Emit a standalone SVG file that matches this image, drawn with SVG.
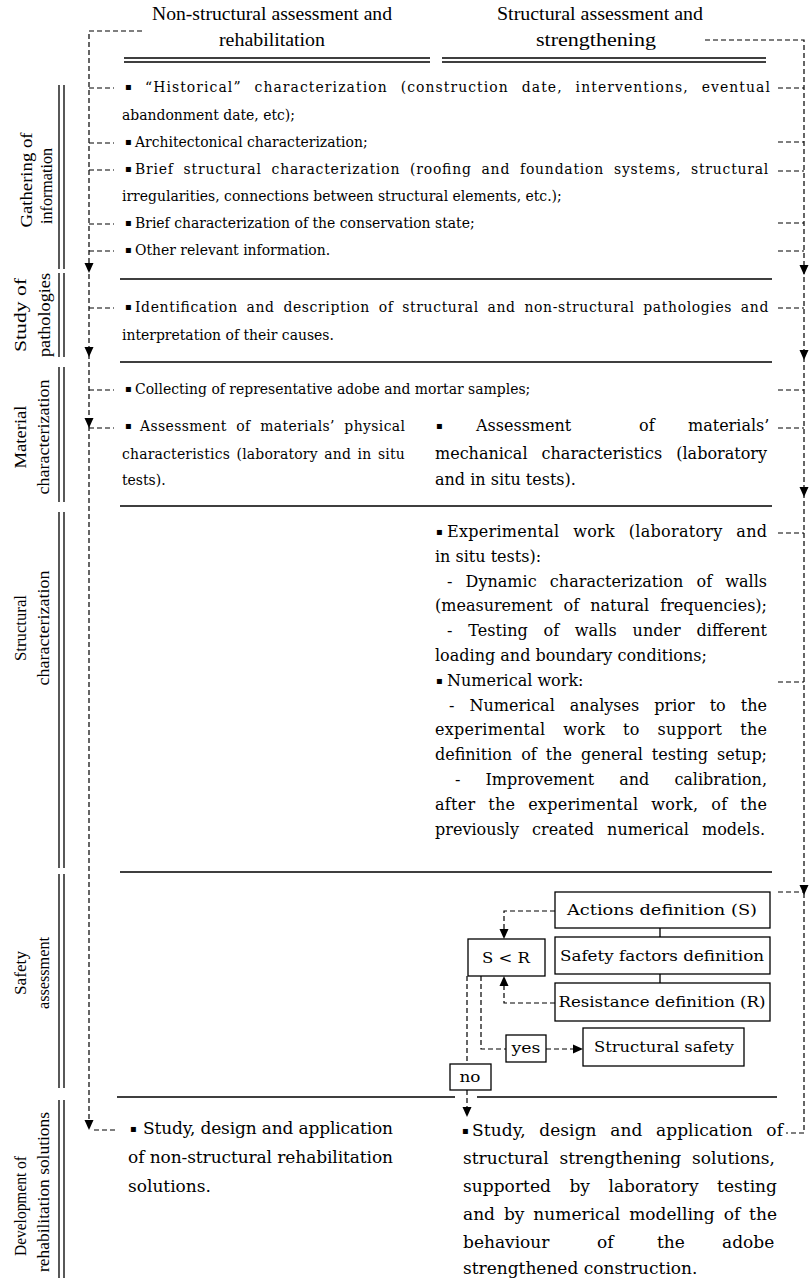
<svg xmlns="http://www.w3.org/2000/svg" width="809" height="1278" viewBox="0 0 809 1278">
<style>
text{fill:#000}
.b{font-family:"DejaVu Serif","Liberation Serif",serif;font-size:15px}
.s{font-family:"DejaVu Serif","Liberation Serif",serif;font-size:16px}
.d{font-family:"DejaVu Serif","Liberation Serif",serif;font-size:17px}
.bx{font-family:"DejaVu Serif","Liberation Serif",serif;font-size:15px}
.bul{font-family:"DejaVu Sans",sans-serif;font-size:10px}
.h{font-family:"Liberation Serif",serif;font-size:18px}
.lb{font-family:"Liberation Serif",serif;font-size:17px}
.r{stroke:#000;stroke-width:1.3;fill:none}
.dash{stroke:#000;stroke-width:1.2;fill:none;stroke-dasharray:5 3}
.box{fill:#fff;stroke:#000;stroke-width:1.3}
</style>
<defs>
<path id="ah" d="M-4.5,-10 L4.5,-10 L0,0 Z" fill="#000"/>
</defs>
<rect width="809" height="1278" fill="#fff"/>

<g id="header">
<text class="h" x="272" y="20" text-anchor="middle" textLength="240" lengthAdjust="spacingAndGlyphs">Non-structural assessment and</text>
<text class="h" x="272" y="46" text-anchor="middle" textLength="106" lengthAdjust="spacingAndGlyphs">rehabilitation</text>
<text class="h" x="600" y="20" text-anchor="middle" textLength="206" lengthAdjust="spacingAndGlyphs">Structural assessment and</text>
<text class="h" x="596" y="46" text-anchor="middle" textLength="120" lengthAdjust="spacingAndGlyphs">strengthening</text>
<path class="r" d="M124,58 H430 M124,62 H430 M442,58 H766 M442,62 H766"/>
</g>

<g id="labels">
<path class="r" d="M59,85 V269 M64,85 V269 M59,273 V357 M64,273 V357 M59,367 V502 M64,367 V502 M59,512 V868 M64,512 V868 M59,874 V1088 M64,874 V1088 M59,1100 V1278 M64,1100 V1278"/>
<text class="lb" transform="translate(32,180) rotate(-90)" text-anchor="middle" textLength="95" lengthAdjust="spacingAndGlyphs">Gathering of</text>
<text class="lb" transform="translate(52,186) rotate(-90)" text-anchor="middle" textLength="76" lengthAdjust="spacingAndGlyphs">information</text>
<text class="lb" transform="translate(26,315) rotate(-90)" text-anchor="middle" textLength="74" lengthAdjust="spacingAndGlyphs">Study of</text>
<text class="lb" transform="translate(50,315) rotate(-90)" text-anchor="middle" textLength="84" lengthAdjust="spacingAndGlyphs">pathologies</text>
<text class="lb" transform="translate(26,437) rotate(-90)" text-anchor="middle" textLength="63" lengthAdjust="spacingAndGlyphs">Material</text>
<text class="lb" transform="translate(49,437) rotate(-90)" text-anchor="middle" textLength="115" lengthAdjust="spacingAndGlyphs">characterization</text>
<text class="lb" transform="translate(26,628) rotate(-90)" text-anchor="middle" textLength="66" lengthAdjust="spacingAndGlyphs">Structural</text>
<text class="lb" transform="translate(49,628) rotate(-90)" text-anchor="middle" textLength="115" lengthAdjust="spacingAndGlyphs">characterization</text>
<text class="lb" transform="translate(26,973) rotate(-90)" text-anchor="middle" textLength="44" lengthAdjust="spacingAndGlyphs">Safety</text>
<text class="lb" transform="translate(49,973) rotate(-90)" text-anchor="middle" textLength="72" lengthAdjust="spacingAndGlyphs">assessment</text>
<text class="lb" transform="translate(26,1206) rotate(-90)" text-anchor="middle" textLength="100" lengthAdjust="spacingAndGlyphs">Development of</text>
<text class="lb" transform="translate(49,1192) rotate(-90)" text-anchor="middle" textLength="160" lengthAdjust="spacingAndGlyphs">rehabilitation solutions</text>
</g>

<g id="rules">
<path class="r" d="M120,279 H772 M120,362 H772 M120,506 H772 M120,872 H772 M117,1097 H455 M477,1097 H777"/>
</g>

<g id="gathering">
<text class="bul" x="125" y="90">▪</text>
<text class="b" transform="translate(145,92) scale(0.93,1)" word-spacing="8" textLength="672" lengthAdjust="spacing">“Historical” characterization (construction date, interventions, eventual</text>
<text class="b" transform="translate(122,120) scale(0.93,1)">abandonment date, etc);</text>
<text class="bul" x="125" y="145">▪</text>
<text class="b" transform="translate(135,147) scale(0.93,1)">Architectonical characterization;</text>
<text class="bul" x="125" y="172">▪</text>
<text class="b" transform="translate(135,174) scale(0.93,1)" word-spacing="5" textLength="681" lengthAdjust="spacing">Brief structural characterization (roofing and foundation systems, structural</text>
<text class="b" transform="translate(122,201) scale(0.93,1)">irregularities, connections between structural elements, etc.);</text>
<text class="bul" x="125" y="226">▪</text>
<text class="b" transform="translate(135,228) scale(0.93,1)">Brief characterization of the conservation state;</text>
<text class="bul" x="125" y="253">▪</text>
<text class="b" transform="translate(135,255) scale(0.93,1)">Other relevant information.</text>
</g>

<g id="pathologies">
<text class="bul" x="125" y="310">▪</text>
<text class="b" transform="translate(135,312) scale(0.93,1)" word-spacing="4" textLength="681" lengthAdjust="spacing">Identification and description of structural and non-structural pathologies and</text>
<text class="b" transform="translate(122,340) scale(0.93,1)">interpretation of their causes.</text>
</g>

<g id="material">
<text class="bul" x="125" y="392">▪</text>
<text class="b" transform="translate(135,394) scale(0.93,1)">Collecting of representative adobe and mortar samples;</text>
<text class="bul" x="125" y="429">▪</text>
<text class="b" transform="translate(140,431) scale(0.93,1)" word-spacing="5" textLength="285" lengthAdjust="spacing">Assessment of materials’ physical</text>
<text class="b" transform="translate(122,459) scale(0.93,1)" word-spacing="2" textLength="304" lengthAdjust="spacing">characteristics (laboratory and in situ</text>
<text class="b" transform="translate(122,485) scale(0.93,1)">tests).</text>
<text class="bul" x="436" y="429">▪</text>
<text class="s" x="476" y="431">Assessment</text>
<text class="s" x="639" y="431">of</text>
<text class="s" x="688" y="431">materials’</text>
<text class="s" x="435" y="459" word-spacing="9" textLength="332" lengthAdjust="spacing">mechanical characteristics (laboratory</text>
<text class="s" x="435" y="485">and in situ tests).</text>
</g>

<g id="structural">
<text class="bul" x="436" y="535">▪</text>
<text class="s" x="447" y="537" word-spacing="8.5" textLength="320" lengthAdjust="spacing">Experimental work (laboratory and</text>
<text class="s" x="435" y="562">in situ tests):</text>
<text class="s" x="447" y="587" word-spacing="8" textLength="320" lengthAdjust="spacing">- Dynamic characterization of walls</text>
<text class="s" x="435" y="611" word-spacing="6" textLength="332" lengthAdjust="spacing">(measurement of natural frequencies);</text>
<text class="s" x="447" y="636" word-spacing="10.5" textLength="320" lengthAdjust="spacing">- Testing of walls under different</text>
<text class="s" x="435" y="661">loading and boundary conditions;</text>
<text class="bul" x="436" y="684">▪</text>
<text class="s" x="447" y="686">Numerical work:</text>
<text class="s" x="449" y="711" word-spacing="10" textLength="318" lengthAdjust="spacing">- Numerical analyses prior to the</text>
<text class="s" x="435" y="735" word-spacing="12.5" textLength="332" lengthAdjust="spacing">experimental work to support the</text>
<text class="s" x="435" y="760" word-spacing="4" textLength="332" lengthAdjust="spacing">definition of the general testing setup;</text>
<text class="s" x="455" y="785" word-spacing="20" textLength="312" lengthAdjust="spacing">- Improvement and calibration,</text>
<text class="s" x="435" y="810" word-spacing="7.5" textLength="332" lengthAdjust="spacing">after the experimental work, of the</text>
<text class="s" x="435" y="835" word-spacing="8" textLength="330" lengthAdjust="spacing">previously created numerical models.</text>
</g>

<g id="safety">
<rect id="actions" class="box" x="555" y="892" width="215" height="36"/>
<text class="bx" x="662" y="915" text-anchor="middle" textLength="190" lengthAdjust="spacingAndGlyphs">Actions definition (S)</text>
<rect id="factors" class="box" x="555" y="937" width="215" height="37"/>
<text class="bx" x="662" y="961" text-anchor="middle" textLength="204" lengthAdjust="spacingAndGlyphs">Safety factors definition</text>
<rect id="resistance" class="box" x="555" y="983" width="215" height="38"/>
<text class="bx" x="662" y="1007" text-anchor="middle" textLength="207" lengthAdjust="spacingAndGlyphs">Resistance definition (R)</text>
<rect id="sr" class="box" x="468" y="939" width="77" height="37"/>
<text class="bx" x="506" y="963" text-anchor="middle" textLength="48" lengthAdjust="spacingAndGlyphs">S &lt; R</text>
<rect id="yes" class="box" x="506" y="1035" width="40" height="27"/>
<text class="bx" x="526" y="1053" text-anchor="middle" textLength="29" lengthAdjust="spacingAndGlyphs">yes</text>
<rect id="safe" class="box" x="583" y="1028" width="161" height="38"/>
<text class="bx" x="664" y="1052" text-anchor="middle" textLength="140" lengthAdjust="spacingAndGlyphs">Structural safety</text>
<rect id="no" class="box" x="450" y="1064" width="41" height="26"/>
<text class="bx" x="470" y="1082" text-anchor="middle" textLength="21" lengthAdjust="spacingAndGlyphs">no</text>
</g>

<g id="development">
<text class="bul" x="130" y="1132">▪</text>
<text class="d" x="143" y="1134" textLength="250" lengthAdjust="spacing">Study, design and application</text>
<text class="d" x="128" y="1163" textLength="265" lengthAdjust="spacing">of non-structural rehabilitation</text>
<text class="d" x="128" y="1192">solutions.</text>
<text class="bul" x="462" y="1134">▪</text>
<text class="d" x="472" y="1136" word-spacing="8" textLength="311" lengthAdjust="spacing">Study, design and application of</text>
<text class="d" x="463" y="1164" word-spacing="5.5" textLength="312" lengthAdjust="spacing">structural strengthening solutions,</text>
<text class="d" x="463" y="1192" word-spacing="13" textLength="314" lengthAdjust="spacing">supported by laboratory testing</text>
<text class="d" x="463" y="1220" word-spacing="3.5" textLength="314" lengthAdjust="spacing">and by numerical modelling of the</text>
<text class="d" x="463" y="1248">behaviour</text>
<text class="d" x="597" y="1248">of</text>
<text class="d" x="657" y="1248">the</text>
<text class="d" x="722" y="1248">adobe</text>
<text class="d" x="463" y="1274">strengthened construction.</text>
</g>

<g id="connectors">
<path class="dash" d="M142,31 H89 V1120"/>
<path class="dash" d="M89,88 H114 M89,143 H114 M89,170 H114 M89,224 H114 M89,251 H114 M89,308 H114 M89,390 H114 M89,428 H114 M94,1130 H117"/>
<path class="dash" d="M705,40 H804 V1133 H786"/>
<path class="dash" d="M778,88 H804 M778,142 H804 M778,171 H804 M778,223 H804 M778,251 H804 M778,308 H804 M778,390 H804 M778,428 H804 M778,533 H804 M778,682 H804 M778,892 H804"/>
<use href="#ah" x="89" y="273"/>
<use href="#ah" x="89" y="357"/>
<use href="#ah" x="89" y="428"/>
<use href="#ah" x="89" y="1130"/>
<use href="#ah" x="804" y="275"/>
<use href="#ah" x="804" y="360"/>
<use href="#ah" x="804" y="497"/>
<use href="#ah" x="804" y="895"/>
<path class="r" d="M660,928 V937 M660,974 V983"/>
<path class="dash" d="M555,911 H504 V929"/>
<use href="#ah" x="504" y="939"/>
<path class="dash" d="M555,1003 H504 V986"/>
<use href="#ah" transform="translate(504,976) rotate(180)"/>
<path class="dash" d="M481,976 V1049 H506"/>
<path class="dash" d="M546,1049 H573"/>
<use href="#ah" transform="translate(583,1049) rotate(-90)"/>
<path class="dash" d="M467,976 V1064"/>
<path class="dash" d="M467,1090 V1107"/>
<use href="#ah" x="467" y="1117"/>
</g>
</svg>
